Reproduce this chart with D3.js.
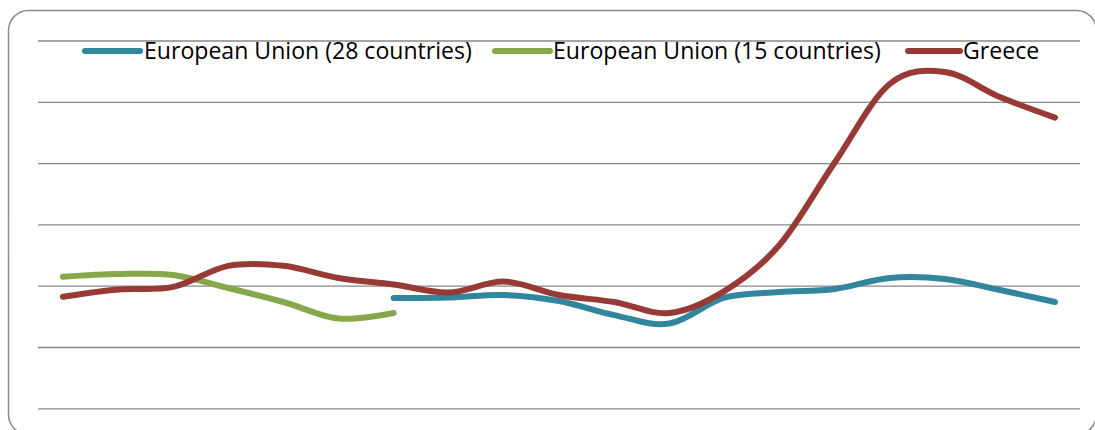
<!DOCTYPE html>
<html>
<head>
<meta charset="utf-8">
<script src="https://cdn.jsdelivr.net/npm/d3@7"></script>
<style>
  body { margin: 0; background: #fff; }
  svg { display: block; }
</style>
</head>
<body>
<script>
//// Data ///////////////////////////////////////
const years = ["1997", "1998", "1999", "2000", "2001", "2002", "2003", "2004", "2005", "2006",
               "2007", "2008", "2009", "2010", "2011", "2012", "2013", "2014", "2015"]

const eu28 = [null, null, null, null, null, null, 8.99, 9.03, 9.24, 8.75,
              7.60, 6.91, 9.03, 9.48, 9.73, 10.63, 10.55, 9.65, 8.67]
const eu15 = [10.73, 10.95, 10.87, 9.81, 8.67, 7.32, 7.77, null, null, null,
              null, null, null, null, null, null, null, null, null]
const greece = [9.10, 9.69, 9.90, 11.62, 11.62, 10.63, 10.10, 9.44, 10.34, 9.24,
                8.67, 7.77, 9.56, 13.32, 20.03, 26.45, 27.43, 25.39, 23.71]

const seriesNames = ["European Union (28 countries)", "European Union (15 countries)", "Greece"]
const yTicks = [0, 5, 10, 15, 20, 25, 30]

//// Layout ///////////////////////////////////////
const WIDTH = 1095
const HEIGHT = 430
const plotLeft = 38
const plotRight = 1080
const colors = ["#31859c", "#87a84a", "#973a36"]
const lineWidth = 6

const svg = d3.select("body").append("svg")
    .attr("width", WIDTH)
    .attr("height", HEIGHT)

// chart frame
svg.append("rect")
    .attr("x", 8.5).attr("y", 10.5)
    .attr("width", 1088).attr("height", 424)
    .attr("rx", 20).attr("ry", 20)
    .attr("fill", "#fff")
    .attr("stroke", "#8c8c8c")
    .attr("stroke-width", 1.5)

const x = d3.scalePoint().domain(years).range([63, 1055])
const y = d3.scaleLinear().domain([0, 30]).range([408.3, 40.5])

// horizontal gridlines
const grid = svg.append("g")
    .attr("transform", `translate(${plotLeft},0)`)
    .call(d3.axisLeft(y).tickValues(yTicks).tickSize(-(plotRight - plotLeft)).tickFormat(""))
grid.select(".domain").remove()
grid.selectAll(".tick line")
    .attr("stroke", "#878787")
    .attr("stroke-width", 1.3)

const line = d3.line()
    .defined(d => d != null)
    .x((d, i) => x(years[i]))
    .y(d => y(d))
    .curve(d3.curveCardinal.tension(0))

const allSeries = [eu28, eu15, greece]
allSeries.forEach((s, k) => {
    svg.append("path")
        .attr("d", line(s))
        .attr("fill", "none")
        .attr("stroke", colors[k])
        .attr("stroke-width", lineWidth)
        .attr("stroke-linecap", "round")
        .attr("stroke-linejoin", "round")
})

// legend
const legendY = 51
const legendItems = [
    {x1: 85, x2: 140, tx: 144},
    {x1: 495, x2: 550, tx: 553},
    {x1: 908, x2: 960, tx: 963}
]
const legend = svg.append("g")
legendItems.forEach((it, k) => {
    legend.append("line")
        .attr("x1", it.x1).attr("x2", it.x2)
        .attr("y1", legendY).attr("y2", legendY)
        .attr("stroke", colors[k])
        .attr("stroke-width", lineWidth)
        .attr("stroke-linecap", "round")
    legend.append("text")
        .attr("class", "lg")
        .attr("x", it.tx)
        .attr("y", legendY)
        .attr("dy", "0.35em")
        .attr("font-family", "'Open Sans', sans-serif")
        .attr("font-size", 20)
        .attr("fill", "#000")
        .text(seriesNames[k])
})

// fit legend font so the first label spans roughly what the original does
const first = legend.select("text.lg").node()
const w = first.getComputedTextLength()
const fs = 20 * 328 / w
legend.selectAll("text.lg").attr("font-size", fs)
</script>
</body>
</html>
